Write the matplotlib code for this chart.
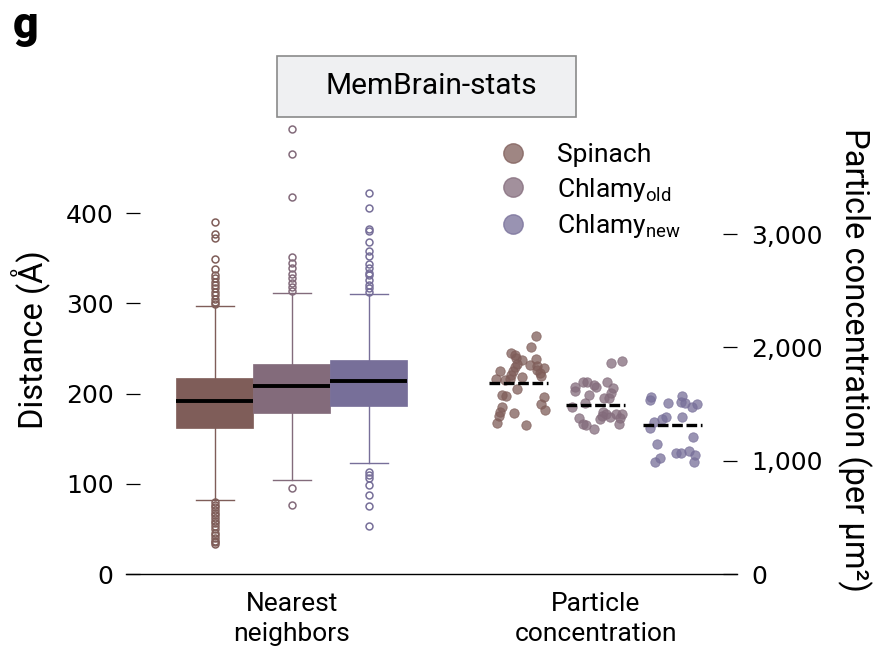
import matplotlib
matplotlib.use('Agg')
import matplotlib.pyplot as plt
from matplotlib.lines import Line2D
from matplotlib.patches import Rectangle

plt.rcParams['font.family'] = ['Roboto', 'DejaVu Sans']
plt.rcParams['mathtext.default'] = 'regular'

# ---------------- data ----------------
legend_labels = ['Spinach', r'Chlamy$_{old}$', r'Chlamy$_{new}$']
categories = ['Nearest\nneighbors', 'Particle\nconcentration']
box_colors = ['#7f5d59', '#836b7b', '#776f99']

# Nearest-neighbour distance box statistics (Å)
nn_q1 = [162, 178, 186]
nn_med = [192, 208, 214]
nn_q3 = [217, 233, 237]
nn_whislo = [82, 104, 123]
nn_whishi = [297, 311, 310]
spinach_outliers = [390, 377, 373, 349, 338, 331, 328, 324, 320, 317, 313, 309,
                    305, 302, 299, 80, 77, 74, 71, 68, 65, 62, 59, 56, 53, 50,
                    46, 43, 40, 37, 35, 33]
old_outliers = [493, 466, 418, 351, 345, 339, 333, 328, 323, 318, 314, 95, 76]
new_outliers = [422, 406, 383, 380, 368, 358, 352, 344, 339, 334, 332, 326, 320,
                317, 313, 113, 110, 106, 99, 88, 75, 53]

# Particle concentration (per µm²)
spinach_conc = [2100, 2000, 1947, 1932, 1903, 1891, 1894, 1850, 1844, 1838, 1826,
                1820, 1791, 1791, 1800, 1776, 1756, 1738, 1747, 1718, 1712, 1721,
                1632, 1579, 1571, 1559, 1500, 1476, 1447, 1427, 1394, 1418, 1335,
                1315]
spinach_jitter = [0.057, 0.038, -0.025, -0.014, -0.011, 0.009, 0.057, -0.006,
                  0.036, 0.060, -0.014, 0.082, -0.062, -0.021, 0.060, 0.069,
                  -0.027, 0.009, 0.071, -0.076, -0.047, -0.030, -0.006, -0.055,
                  -0.044, 0.082, 0.071, -0.055, 0.085, -0.062, -0.067, -0.016,
                  -0.071, 0.024]
old_conc = [1859, 1879, 1647, 1692, 1692, 1670, 1653, 1692, 1617, 1579, 1639,
            1594, 1556, 1550, 1476, 1506, 1427, 1412, 1394, 1409, 1409, 1374,
            1368, 1383, 1374, 1324, 1315, 1282, 1321]
old_jitter = [0.048, 0.086, -0.069, -0.042, -0.029, -0.006, -0.001, 0.035,
              -0.069, -0.023, 0.057, 0.048, 0.027, 0.043, -0.078, -0.036, 0.024,
              0.033, 0.021, 0.066, 0.085, -0.056, 0.013, 0.046, 0.079, -0.042,
              -0.033, -0.006, 0.076]
new_conc = [1559, 1535, 1506, 1571, 1520, 1512, 1471, 1497, 1339, 1368, 1383,
            1388, 1291, 1206, 1150, 1065, 1065, 1085, 1050, 1026, 991, 991]
new_jitter = [-0.072, -0.075, -0.017, 0.029, 0.026, 0.039, 0.062, 0.079, -0.062,
              -0.037, -0.023, 0.029, -0.075, 0.065, -0.053, 0.010, 0.025, 0.053,
              0.072, -0.043, -0.059, 0.070]
conc_means = [1686, 1492, 1315]

left_ticks = [0, 100, 200, 300, 400]
right_ticks = [0, 1000, 2000, 3000]
right_ticklabels = ['0', '1,000', '2,000', '3,000']

# ---------------- layout ----------------
W, H = 886, 654
fig = plt.figure(figsize=(W / 100, H / 100), dpi=100)
ax = fig.add_axes([126 / W, 1 - 574 / H, 611 / W, 451 / H])
ax2 = ax.twinx()

dodge = 0.2533
offsets = [-dodge, 0.0, dodge]
left_max = 500
scale = 7.963

# ---------------- box plots ----------------
outliers = [spinach_outliers, old_outliers, new_outliers]
stats = []
for i in range(3):
    stats.append(dict(med=nn_med[i], q1=nn_q1[i], q3=nn_q3[i],
                      whislo=nn_whislo[i], whishi=nn_whishi[i],
                      fliers=outliers[i]))
bp = ax.bxp(stats, positions=[0 + o for o in offsets], widths=dodge,
            capwidths=0.127, patch_artist=True, showfliers=True,
            manage_ticks=False)
for i, c in enumerate(box_colors):
    bp['boxes'][i].set(facecolor=c, edgecolor=c, linewidth=0.5)
    bp['medians'][i].set(color='black', linewidth=2.8, solid_capstyle='butt')
    for k in (2 * i, 2 * i + 1):
        bp['whiskers'][k].set(color=c, linewidth=1.0)
        bp['caps'][k].set(color=c, linewidth=1.0)
    bp['fliers'][i].set(marker='o', markerfacecolor='none', markeredgecolor=c,
                        markersize=5, markeredgewidth=1.1)

# ---------------- strip plots ----------------
concs = [spinach_conc, old_conc, new_conc]
jitters = [spinach_jitter, old_jitter, new_jitter]
for i, c in enumerate(box_colors):
    xs = [1 + offsets[i] + j for j in jitters[i]]
    ax2.scatter(xs, concs[i], s=46, color=c, alpha=0.75, edgecolors=c,
                linewidths=0.6, zorder=3)
    ax2.hlines(conc_means[i], 1 + offsets[i] - 0.097, 1 + offsets[i] + 0.097,
               colors='black', linewidth=2.4, linestyles=(0, (3.2, 1.1)),
               zorder=4)

# ---------------- axes styling ----------------
ax.set_xlim(-0.546, 1.464)
ax.set_ylim(0, left_max)
ax2.set_ylim(0, left_max * scale)
for a in (ax, ax2):
    for s in ('top', 'left', 'right'):
        a.spines[s].set_visible(False)
ax2.spines['bottom'].set_visible(False)
ax.spines['bottom'].set_linewidth(1.0)

num_font = ['DejaVu Sans']
ax.set_yticks(left_ticks)
ax.set_yticklabels([str(t) for t in left_ticks], family=num_font, fontsize=18)
ax2.set_yticks(right_ticks)
ax2.set_yticklabels(right_ticklabels, family=num_font, fontsize=18)
ax.tick_params(axis='y', direction='in', length=10, width=0.9, pad=9)
ax2.tick_params(axis='y', direction='in', length=10, width=0.9, pad=10)
ax.set_xticks([0, 1])
ax.set_xticklabels(categories, fontsize=19, linespacing=1.3)
ax.tick_params(axis='x', length=0, pad=13)

ax.set_ylabel('Distance (Å)', fontsize=23.5)
ax.yaxis.set_label_coords(-0.123, 0.52)
ax2.set_ylabel('Particle concentration (per µm²)', fontsize=23.5,
               rotation=270, va='bottom')
ax2.yaxis.set_label_coords(1.163, 0.474)

# ---------------- legend ----------------
handles = [Line2D([], [], marker='o', linestyle='', markersize=14,
                  markerfacecolor=c, markeredgecolor=c, alpha=0.75)
           for c in box_colors]
fig.legend(handles, legend_labels, loc='upper left',
           bbox_to_anchor=(500 / W, 1 - 143 / H), frameon=False,
           fontsize=19, handlelength=1.0, handletextpad=1.15,
           labelspacing=0.33, borderpad=0, borderaxespad=0)

# ---------------- title box & panel letter ----------------
fig.patches.append(Rectangle((277 / W, 1 - 117 / H), 299 / W, 61 / H,
                             transform=fig.transFigure, facecolor='#eff0f2',
                             edgecolor='#8a8a8a', linewidth=1.2))
fig.text(431 / W, 1 - 86 / H, 'MemBrain-stats', fontsize=21.5,
         ha='center', va='center')
fig.text(13 / W, 1 - 38 / H, 'g', fontsize=32, fontweight='black',
         ha='left', va='baseline')

fig.savefig('out.png', dpi=100)
